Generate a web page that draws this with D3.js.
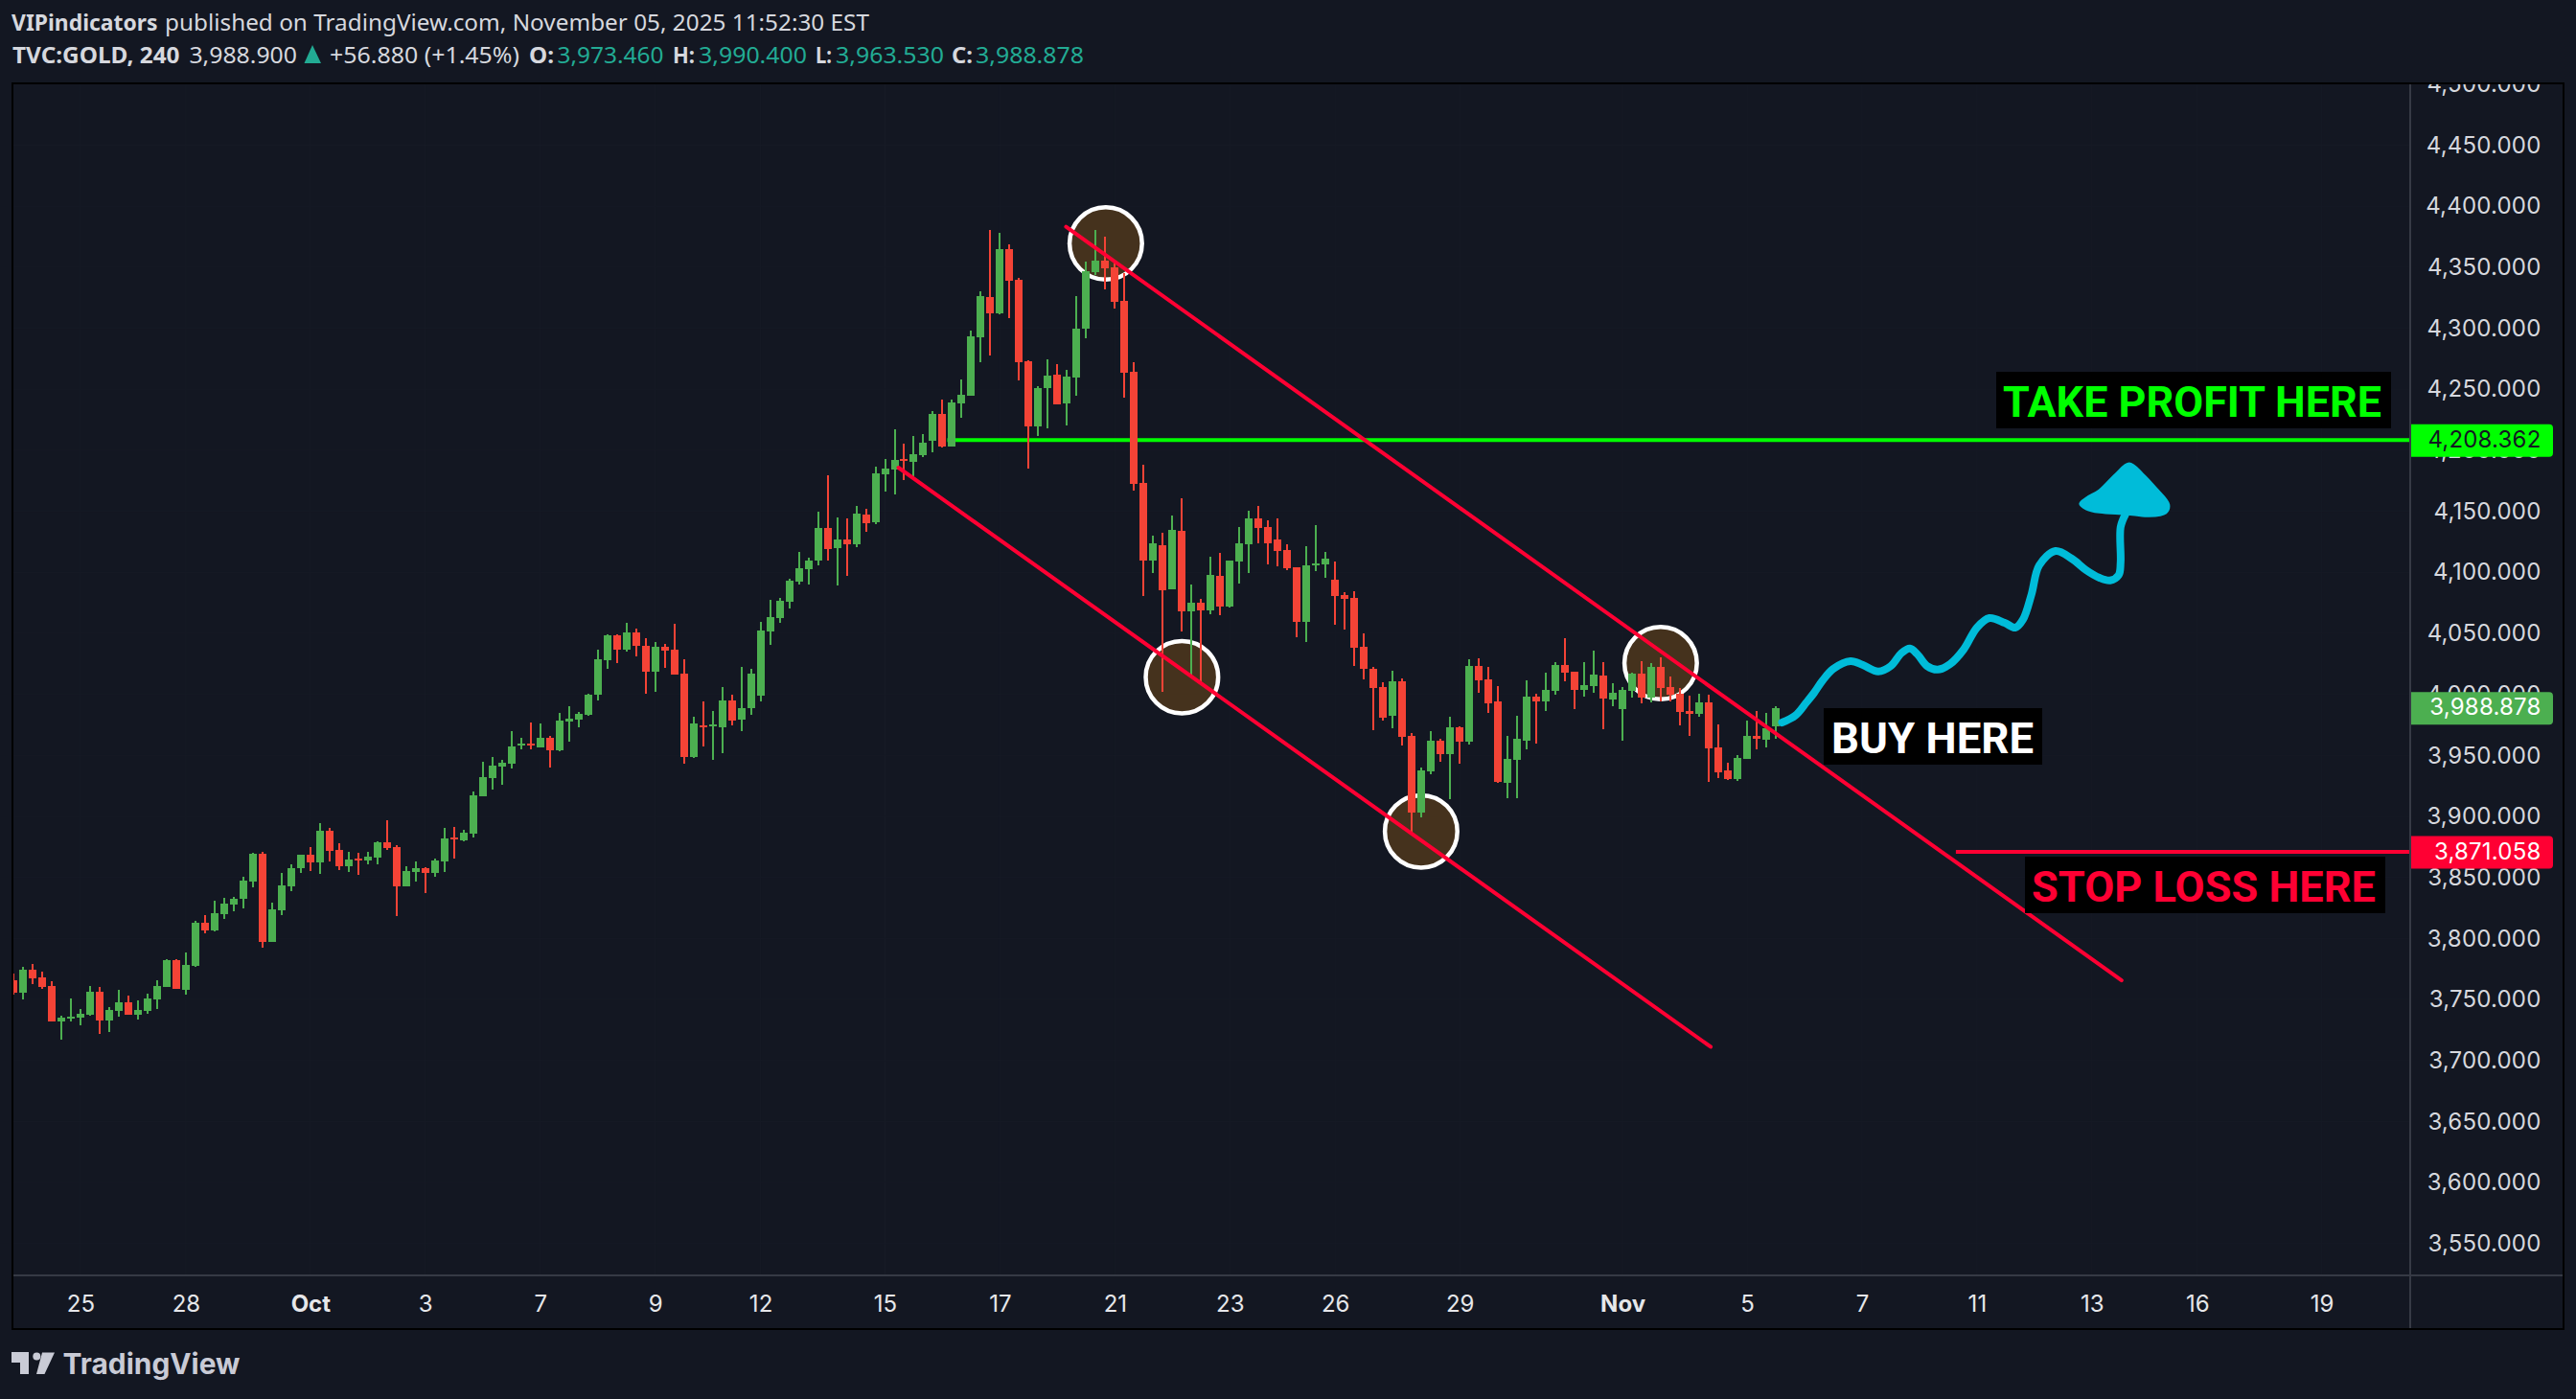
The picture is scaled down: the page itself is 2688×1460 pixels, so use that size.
<!DOCTYPE html>
<html><head><meta charset="utf-8">
<script src="https://cdn.jsdelivr.net/npm/d3@7/dist/d3.min.js"></script>
<style>html,body{margin:0;padding:0;background:#131722;overflow:hidden}svg{display:block}</style>
</head><body><svg id="c" width="2688" height="1460"></svg>
<script>
const opens=[3765.7,3755.5,3774.3,3768.1,3761.0,3732.0,3734.3,3735.1,3737.4,3756.3,3732.7,3740.6,3747.7,3737.4,3740.6,3750.0,3760.2,3782.2,3757.9,3777.5,3812.8,3806.5,3819.9,3827.7,3832.4,3846.6,3869.3,3797.1,3823.0,3842.7,3857.6,3868.6,3862.3,3888.2,3872.5,3859.1,3865.4,3863.8,3866.2,3878.8,3874.8,3842.7,3854.4,3857.6,3853.6,3863.1,3882.7,3880.3,3885.8,3916.4,3931.4,3940.8,3943.1,3958.1,3959.6,3956.5,3964.3,3954.1,3977.7,3979.2,3983.2,3999.7,4027.9,4048.3,4036.6,4050.7,4039.7,4018.5,4038.9,4036.6,4016.9,3948.6,3974.5,3973.8,3973.0,3995.0,3979.2,3988.7,3998.9,4051.5,4062.5,4075.8,4092.4,4102.6,4109.7,4136.4,4119.9,4126.9,4123.0,4147.3,4141.1,4180.3,4184.2,4192.9,4190.5,4196.0,4207.8,4229.8,4203.1,4238.4,4244.7,4292.6,4325.5,4312.2,4364.8,4339.7,4272.9,4219.6,4251.0,4261.9,4238.4,4259.6,4299.6,4346.0,4355.4,4349.9,4322.4,4264.3,4173.2,4109.6,4122.2,4086.1,4134.0,4068.0,4075.0,4068.7,4097.0,4071.9,4108.8,4122.9,4144.1,4137.0,4126.8,4118.2,4104.1,4059.3,4105.6,4106.4,4093.9,4081.3,4078.9,4038.9,4020.9,4005.9,3982.4,4010.6,3965.9,3903.1,3936.8,3962.0,3951.0,3973.0,3961.2,4023.2,4012.2,3994.2,3927.4,3946.3,3962.0,3998.1,3994.2,4002.8,4024.0,4018.5,4003.6,4006.7,4015.4,3995.7,3987.9,4002.8,4016.9,3997.3,4022.4,4005.9,4000.4,3986.3,3984.0,3993.4,3956.5,3937.6,3930.6,3947.1,3965.9,3962.8,3973.46];
const highs=[3771.2,3776.7,3779.1,3772.8,3764.9,3736.7,3750.8,3742.2,3761.0,3760.2,3743.7,3757.9,3753.1,3749.2,3754.7,3765.7,3783.0,3783.0,3788.5,3814.4,3819.1,3830.9,3833.2,3834.0,3850.5,3870.1,3870.9,3829.3,3853.6,3860.7,3868.6,3874.8,3894.5,3890.5,3878.0,3870.9,3870.1,3870.9,3879.6,3896.8,3876.4,3859.1,3863.1,3858.4,3865.4,3890.5,3891.3,3889.0,3920.4,3944.7,3948.6,3946.3,3969.8,3964.3,3976.9,3976.1,3965.9,3984.7,3990.2,3985.5,4000.4,4036.6,4049.1,4049.1,4058.5,4053.8,4046.0,4042.8,4041.3,4057.8,4028.7,3981.6,3994.2,3986.3,4005.9,3999.7,4022.4,4020.9,4059.3,4077.4,4079.0,4094.7,4116.7,4112.0,4149.7,4179.5,4145.0,4144.2,4154.4,4152.1,4186.6,4192.9,4217.2,4205.4,4211.7,4213.3,4232.1,4241.5,4241.5,4258.0,4298.1,4330.2,4380.5,4378.1,4368.7,4341.2,4273.7,4252.5,4274.5,4270.6,4265.9,4326.3,4354.6,4380.5,4375.0,4354.6,4345.2,4272.2,4188.1,4130.0,4132.4,4146.5,4160.7,4090.0,4078.2,4112.7,4115.8,4109.6,4137.0,4150.4,4154.3,4142.5,4144.1,4122.9,4104.1,4121.3,4138.6,4116.6,4108.8,4083.7,4084.4,4049.9,4022.4,4009.9,4019.3,4013.0,3968.2,3940.0,3969.8,3963.5,3981.6,3973.7,4028.7,4029.5,4022.4,4006.7,3965.9,3982.4,4011.4,4000.4,4017.7,4026.4,4046.0,4018.5,4026.4,4035.8,4026.4,4009.1,4005.9,4017.7,4027.1,4025.6,4030.3,4014.6,4005.2,3998.9,4000.4,3999.7,3975.3,3943.9,3950.2,3978.5,3986.3,3984.7,3990.4];
const lows=[3753.9,3750.0,3762.6,3758.6,3732.0,3717.0,3732.0,3728.8,3736.7,3721.7,3723.3,3735.9,3737.4,3733.5,3738.2,3742.2,3760.2,3758.6,3753.9,3776.7,3804.2,3805.8,3816.0,3822.2,3824.6,3841.9,3792.4,3797.1,3819.1,3838.7,3853.6,3855.2,3852.9,3863.1,3856.0,3854.4,3852.1,3860.7,3860.7,3872.5,3818.3,3842.7,3846.6,3837.2,3850.5,3854.4,3865.4,3879.6,3882.7,3916.4,3921.9,3925.9,3939.2,3954.9,3954.9,3956.5,3940.0,3953.3,3961.2,3973.0,3982.4,3995.0,4020.9,4025.6,4035.0,4031.1,4000.4,4002.0,4021.6,4016.1,3943.1,3947.8,3957.3,3946.3,3951.8,3974.5,3969.8,3983.2,3994.2,4040.5,4058.5,4070.3,4090.0,4090.0,4105.7,4109.7,4089.2,4097.1,4120.7,4133.2,4139.5,4166.2,4163.8,4175.6,4178.7,4194.5,4198.4,4202.3,4203.1,4226.6,4244.7,4272.2,4277.6,4311.4,4308.3,4257.2,4185.0,4211.7,4218.0,4237.6,4220.3,4244.7,4291.8,4343.6,4331.8,4316.1,4243.1,4166.9,4080.6,4099.4,4002.0,4086.1,4051.5,4013.8,4009.9,4065.6,4064.8,4071.1,4090.7,4099.4,4123.7,4106.4,4104.9,4101.7,4046.8,4042.8,4100.9,4095.4,4057.0,4053.0,4023.2,4012.2,3970.6,3978.5,3972.2,3958.0,3885.8,3899.2,3934.5,3944.7,3914.1,3943.1,3958.8,4001.2,3984.7,3927.4,3914.9,3914.9,3954.9,3959.6,3986.3,3999.7,4010.7,3987.9,3998.1,4001.2,3971.4,3990.2,3962.0,3997.3,3992.6,3993.4,3994.2,3994.2,3974.5,3965.9,3981.6,3928.2,3931.4,3929.8,3929.0,3947.1,3954.9,3956.5,3963.53];
const closes=[3755.5,3774.3,3767.3,3760.2,3732.0,3735.1,3735.9,3738.2,3756.3,3732.7,3741.4,3747.7,3737.4,3741.4,3750.8,3761.0,3782.2,3758.6,3778.3,3812.8,3806.5,3820.7,3828.5,3832.4,3847.4,3869.3,3797.1,3823.8,3843.4,3857.6,3868.6,3862.3,3888.2,3871.7,3859.1,3864.6,3863.8,3867.0,3878.8,3874.1,3842.7,3855.2,3857.6,3853.6,3863.8,3881.9,3881.1,3886.6,3917.2,3932.1,3941.6,3943.9,3957.3,3959.6,3958.1,3964.3,3954.1,3978.5,3980.0,3984.0,3999.7,4028.7,4048.3,4036.6,4050.7,4039.7,4018.5,4038.9,4035.8,4016.1,3948.6,3976.1,3973.0,3975.3,3995.0,3978.5,3988.7,4016.9,4052.3,4063.3,4076.6,4093.1,4103.4,4109.7,4136.4,4119.1,4126.9,4123.0,4148.1,4140.3,4181.1,4185.0,4192.1,4191.3,4196.8,4206.2,4229.8,4203.1,4239.2,4245.5,4293.3,4326.3,4312.2,4364.8,4338.9,4272.2,4219.6,4251.0,4261.2,4237.6,4260.4,4299.6,4346.7,4355.4,4349.1,4321.6,4263.5,4172.4,4109.6,4123.8,4085.3,4134.8,4068.0,4075.0,4068.7,4097.8,4071.9,4109.6,4123.7,4144.1,4136.3,4123.7,4117.4,4103.3,4059.3,4105.6,4107.2,4111.1,4080.5,4078.2,4038.1,4020.9,4005.1,3980.8,4010.6,3965.1,3903.1,3937.6,3962.0,3951.0,3973.0,3961.2,4023.2,4011.4,3992.6,3928.2,3947.1,3963.5,3998.1,3994.2,4003.6,4024.0,4017.7,4003.6,4007.5,4016.1,3996.5,4001.2,4003.6,4016.9,3997.3,4022.4,4005.2,3999.7,3985.5,3984.0,3993.4,3955.7,3936.1,3930.6,3947.8,3965.9,3963.5,3972.2,3988.878];

const priceTicks=[4500,4450,4400,4350,4300,4250,4200,4150,4100,4050,4000,3950,3900,3850,3800,3750,3700,3650,3600,3550];
const dateBars=[7,18,31,43,55,67,78,91,103,115,127,138,151,168,181,193,205,217,228,241];
const dateLabels=["25","28","Oct","3","7","9","12","15","17","21","23","26","29","Nov","5","7","11","13","16","19"];
const boldDates=["Oct","Nov"];

const takeProfit=4208.362, stopLoss=3871.058, lastClose=3988.878;
const upperChannelBars=[109.9,220.1], upperChannelPrices=[4383.1,3765.7];
const lowerChannelBars=[92.4,177.2], lowerChannelPrices=[4185.8,3711.2];
const circleBars=[114.05,122.0,146.97,171.98], circlePrices=[4369.5,4014.1,3887.7,4025.6];
const brushBars=[184.65,186.05,187.2,188.0,188.9,190.0,191.8,193.1,194.7,196.0,197.1,198.0,198.8,199.8,200.9,202.2,203.6,205.0,206.3,207.9,209.0,209.8,210.7,211.5,213.2,214.9,216.4,217.8,218.9,219.8,220.0,220.0,220.5];
const brushPrices=[3976.9,3982.7,3993.4,4001.3,4011.5,4020.9,4027.2,4024.0,4018.8,4023.2,4033.7,4037.6,4032.7,4023.2,4020.3,4024.8,4036.6,4054.7,4062.5,4058.6,4054.7,4061.2,4082.1,4105.7,4117.5,4111.2,4101.8,4095.5,4093.4,4097.8,4108.3,4137.1,4147.5];
const arrowBars=[220.9,222.3,223.7,225.0,224.7,222.9,220.6,217.8,216.4,215.8,216.4,217.8,219.5];
const arrowPrices=[4188.9,4180.3,4168.5,4155.4,4148.9,4146.3,4148.1,4149.4,4152.2,4156.2,4160.6,4167.1,4180.3];

const BG="#131722",UP="#4caf50",DOWN="#f44336",RED="#ff0033",LIME="#00ff00",CYAN="#00bcd9",TXT="#d6d8de";
const FONT="Inter, Roboto, sans-serif";
const PL=14,PR=2515,PT=88,PB=1331;

const x=d3.scaleLinear().domain([0,184]).range([14,1853]);
const y=d3.scaleLinear().domain([4450,3550]).range([151.5,1297.8]);
const svg=d3.select("#c");
svg.append("rect").attr("width",2688).attr("height",1460).attr("fill",BG);
const defs=svg.append("defs");
defs.append("clipPath").attr("id","plot").append("rect").attr("x",PL).attr("y",PT).attr("width",PR-PL).attr("height",PB-PT);
defs.append("clipPath").attr("id","pane").append("rect").attr("x",PR).attr("y",PT).attr("width",2675-PR).attr("height",PB-PT);

// faint grid
const grid=svg.append("g").attr("clip-path","url(#plot)").attr("stroke","#161a25").attr("stroke-width",1);
grid.selectAll("line.v").data(dateBars).join("line").attr("class","v").attr("x1",d=>x(d)).attr("x2",d=>x(d)).attr("y1",PT).attr("y2",PB);
grid.selectAll("line.h").data(priceTicks).join("line").attr("class","h").attr("x1",PL).attr("x2",PR).attr("y1",d=>y(d)).attr("y2",d=>y(d));

const plot=svg.append("g").attr("clip-path","url(#plot)");

// circles sit under the candles
plot.append("g").selectAll("circle").data(circleBars).join("circle")
 .attr("cx",d=>x(d)).attr("cy",(d,i)=>y(circlePrices[i])).attr("r",37.8)
 .attr("fill","#45321d").attr("stroke","#ffffff").attr("stroke-width",4.5);

// level lines pass behind the candles
plot.append("line").attr("x1",x(97.5)).attr("x2",PR).attr("y1",y(takeProfit)).attr("y2",y(takeProfit)).attr("stroke",LIME).attr("stroke-width",4);
plot.append("line").attr("x1",x(202.8)).attr("x2",PR).attr("y1",y(stopLoss)).attr("y2",y(stopLoss)).attr("stroke",RED).attr("stroke-width",4);

// candles
const cg=plot.append("g").attr("shape-rendering","crispEdges");
const idx=d3.range(opens.length);
const col=i=>closes[i]>=opens[i]?UP:DOWN;
cg.selectAll("rect.w").data(idx).join("rect").attr("class","w")
 .attr("x",i=>Math.round(x(i))-1).attr("width",2)
 .attr("y",i=>Math.round(y(highs[i]))).attr("height",i=>Math.max(1,Math.round(y(lows[i]))-Math.round(y(highs[i]))))
 .attr("fill",col);
cg.selectAll("rect.b").data(idx).join("rect").attr("class","b")
 .attr("x",i=>Math.round(x(i))-4).attr("width",8)
 .attr("y",i=>Math.round(y(Math.max(opens[i],closes[i]))))
 .attr("height",i=>Math.max(2,Math.round(y(Math.min(opens[i],closes[i])))-Math.round(y(Math.max(opens[i],closes[i])))))
 .attr("fill",col);

// channel lines lie over the candles
const chan=plot.append("g").attr("stroke",RED).attr("stroke-width",4).attr("stroke-linecap","round");
chan.append("line").attr("x1",x(upperChannelBars[0])).attr("y1",y(upperChannelPrices[0])).attr("x2",x(upperChannelBars[1])).attr("y2",y(upperChannelPrices[1]));
chan.append("line").attr("x1",x(lowerChannelBars[0])).attr("y1",y(lowerChannelPrices[0])).attr("x2",x(lowerChannelBars[1])).attr("y2",y(lowerChannelPrices[1]));

// brush forecast
const brushLine=d3.line().x(d=>x(d[0])).y(d=>y(d[1])).curve(d3.curveCatmullRom);
plot.append("path").attr("d",brushLine(d3.zip(brushBars,brushPrices))).attr("fill","none").attr("stroke",CYAN).attr("stroke-width",8).attr("stroke-linecap","round").attr("stroke-linejoin","round");
plot.append("path").attr("d",d3.line().x(d=>x(d[0])).y(d=>y(d[1])).curve(d3.curveCatmullRomClosed)(d3.zip(arrowBars,arrowPrices))).attr("fill",CYAN).attr("stroke",CYAN).attr("stroke-width",3);

// text boxes
function box(x0,y0,x1,y1,t,c,tx0,tx1){
 svg.append("rect").attr("x",x0).attr("y",y0).attr("width",x1-x0).attr("height",y1-y0).attr("fill","#000");
 svg.append("text").attr("x",tx0).attr("y",(y0+y1)/2+17).attr("textLength",tx1-tx0).attr("lengthAdjust","spacingAndGlyphs")
  .attr("font-family","Roboto, sans-serif").attr("font-size",44).attr("font-weight",700).attr("fill",c).text(t);
}
box(2083,388,2495,447,"TAKE PROFIT HERE",LIME,2090,2485);
box(1903,739,2131,798,"BUY HERE","#ffffff",1911,2122);
box(2113,894,2489,953,"STOP LOSS HERE",RED,2120,2479);

// price axis
const pane=svg.append("g").attr("clip-path","url(#pane)");
const axisY=d3.axisRight(y).tickValues(priceTicks).tickSize(0).tickPadding(0).tickFormat(d3.format(",.3f"));
const ay=pane.append("g").attr("transform","translate(2651.5,0)").call(axisY);
ay.select(".domain").remove();
ay.selectAll("text").attr("x",0).attr("text-anchor","end").attr("dy","0.32em").attr("font-family",FONT).attr("font-size",24).attr("fill",TXT).attr("letter-spacing","0.2");

// time axis
const axisX=d3.axisBottom(x).tickValues(dateBars).tickSize(0).tickPadding(0).tickFormat((d,i)=>dateLabels[i]);
const ax=svg.append("g").attr("transform","translate(0,1360)").call(axisX);
ax.select(".domain").remove();
ax.selectAll("text").attr("y",0).attr("dy","0.36em").attr("font-family",FONT).attr("font-size",24).attr("fill","#e6e7ea")
 .attr("font-weight",(d,i)=>boldDates.includes(dateLabels[i])?700:400);

// axis rules and frame
svg.append("line").attr("x1",PR).attr("x2",PR).attr("y1",PT).attr("y2",1386).attr("stroke","#363a45").attr("stroke-width",2);
svg.append("line").attr("x1",PL).attr("x2",2675).attr("y1",PB).attr("y2",PB).attr("stroke","#363a45").attr("stroke-width",2);
svg.append("rect").attr("x",13).attr("y",87).attr("width",2662).attr("height",1300).attr("fill","none").attr("stroke","#000").attr("stroke-width",2);

// price labels
function tag(v,bg,fg){
 const cy=y(v);
 svg.append("path").attr("d",`M2516 ${cy-16.5}H2660a4 4 0 0 1 4 4V${cy+13.5}a4 4 0 0 1 -4 4H2516Z`).attr("fill",bg);
 svg.append("text").attr("x",2651.5).attr("y",cy).attr("dy","0.32em").attr("text-anchor","end").attr("font-family",FONT).attr("font-size",24).attr("letter-spacing","0.2").attr("fill",fg).text(d3.format(",.3f")(v));
}
tag(takeProfit,LIME,"#131722");
tag(lastClose,UP,"#ffffff");
tag(stopLoss,RED,"#ffffff");

// header
const HF="'Noto Sans', sans-serif";
function h(x0,x1,yb,t,c,b){svg.append("text").attr("x",x0).attr("y",yb).attr("textLength",x1-x0).attr("lengthAdjust","spacingAndGlyphs").attr("font-family",HF).attr("font-size",24).attr("fill",c).attr("font-weight",b?700:400).text(t);}
const TEAL="#22ab94";
h(12,164.5,32,"VIPindicators",TXT,true);
h(172,907,32,"published on TradingView.com, November 05, 2025 11:52:30 EST",TXT);
h(13,187.5,66,"TVC:GOLD, 240",TXT,true);
h(197.4,310,66,"3,988.900",TXT);
svg.append("path").attr("d","M326 47L335 66H317.5Z").attr("fill",TEAL);
h(344,542,66,"+56.880 (+1.45%)",TXT);
h(552,578,66,"O:",TXT,true);h(581.5,692.4,66,"3,973.460",TEAL);
h(702,725,66,"H:",TXT,true);h(729,842,66,"3,990.400",TEAL);
h(851,868,66,"L:",TXT,true);h(872,985,66,"3,963.530",TEAL);
h(993,1015,66,"C:",TXT,true);h(1018,1131,66,"3,988.878",TEAL);

// logo
const LOGO="#c9cbd6";
svg.append("path").attr("d","M12 1411H30V1434H21V1422H12Z M44 1411.5H57L46.5 1434H38Z").attr("fill",LOGO);
svg.append("circle").attr("cx",38.3).attr("cy",1415.5).attr("r",4).attr("fill",LOGO);
svg.append("text").attr("x",65.5).attr("y",1434).attr("textLength",185).attr("lengthAdjust","spacingAndGlyphs").attr("font-family","Inter, sans-serif").attr("font-size",30).attr("font-weight",700).attr("fill",LOGO).text("TradingView");
</script></body></html>
